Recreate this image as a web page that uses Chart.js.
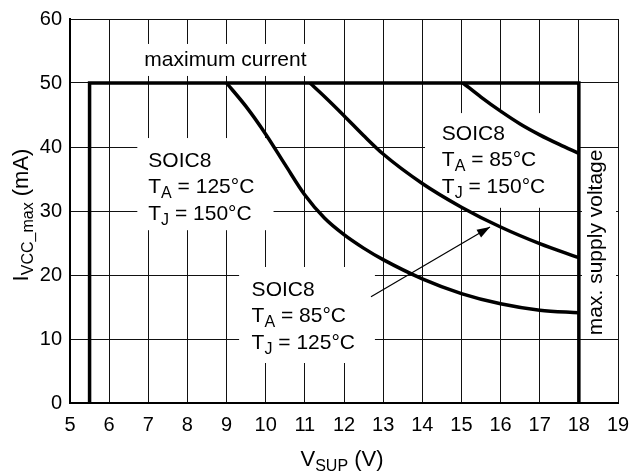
<!DOCTYPE html>
<html>
<head>
<meta charset="utf-8">
<script src="https://cdn.jsdelivr.net/npm/chart.js@4.4.0/dist/chart.umd.min.js"></script>
<style>
  html, body { margin: 0; padding: 0; background: #fff; }
</style>
</head>
<body>
<canvas id="chart" width="631" height="472"></canvas>
<script>
// axis ticks
const xTickValues = [5, 6, 7, 8, 9, 10, 11, 12, 13, 14, 15, 16, 17, 18, 19];
const yTickValues = [0, 10, 20, 30, 40, 50, 60];

// safe operating area: min supply, max current, max supply
const limitX = [5.5, 5.5, 18, 18];
const limitY = [0, 50, 50, 0];

// SOIC8, TA = 125°C, TJ = 150°C
const curve1X = [9, 9.5, 10, 10.5, 11, 11.5, 12, 12.5, 13, 14, 15, 16, 17, 18];
const curve1Y = [50, 46.3, 42.0, 37.2, 32.5, 28.9, 26.3, 24.2, 22.4, 19.4, 17.1, 15.5, 14.5, 14.1];

// SOIC8, TA = 85°C, TJ = 125°C
const curve2X = [11.13, 11.5, 12, 12.5, 13, 14, 15, 16, 17, 18];
const curve2Y = [50, 47.9, 44.9, 41.8, 38.9, 34.3, 30.6, 27.5, 24.9, 22.7];

// SOIC8, TA = 85°C, TJ = 150°C
const curve3X = [15.04, 15.5, 16, 16.5, 17, 17.5, 18];
const curve3Y = [50, 47.8, 45.6, 43.6, 41.9, 40.4, 39.0];

// pointer from the lower note to its curve
const arrowX = [12.69, 15.73];
const arrowY = [16.6, 27.5];

const FONT = '"Liberation Sans", Arial, Helvetica, sans-serif';
Chart.defaults.font.family = FONT;
Chart.defaults.color = "#000";

const toPoints = (xs, ys) => xs.map((v, i) => ({ x: v, y: ys[i] }));

// white patches behind the notes: [x0, y0, x1, y1] in data units
const boxes = [
  [6.79, 56.1, 11.26, 51.1],
  [6.72, 41.4, 10.2, 27.0],
  [9.32, 21.25, 12.79, 6.25],
  [14.07, 45.3, 18, 30.5],
  [18.08, 39.8, 18.95, 10.3],
];

const notes = [
  { x: 6.9, y: 52.7, lines: [[["maximum current"]]] },
  { x: 7.0, y: 36.9, lines: [[["SOIC8"]], [["T"], ["A", 1], [" = 125\u00B0C"]], [["T"], ["J", 1], [" = 150\u00B0C"]]] },
  { x: 9.64, y: 16.77, lines: [[["SOIC8"]], [["T"], ["A", 1], [" = 85\u00B0C"]], [["T"], ["J", 1], [" = 125\u00B0C"]]] },
  { x: 14.5, y: 41.1, lines: [[["SOIC8"]], [["T"], ["A", 1], [" = 85\u00B0C"]], [["T"], ["J", 1], [" = 150\u00B0C"]]] },
];

function drawRich(ctx, x, y, segs, size, subSize, align) {
  let w = 0;
  segs.forEach(s => {
    ctx.font = (s[1] ? subSize : size) + "px " + FONT;
    w += ctx.measureText(s[0]).width;
  });
  let cx = align === "center" ? x - w / 2 : x;
  segs.forEach(s => {
    ctx.font = (s[1] ? subSize : size) + "px " + FONT;
    ctx.fillText(s[0], cx, s[1] ? y + 5 : y);
    cx += ctx.measureText(s[0]).width;
  });
}

const notesPlugin = {
  id: "notes",
  beforeDatasetsDraw(chart) {
    const { ctx, scales: { x, y } } = chart;
    ctx.save();
    ctx.fillStyle = "#fff";
    boxes.forEach(b => {
      const l = x.getPixelForValue(b[0]);
      const t = y.getPixelForValue(b[1]);
      const r = x.getPixelForValue(b[2]);
      const bt = y.getPixelForValue(b[3]);
      ctx.fillRect(l, t, r - l, bt - t);
    });
    ctx.fillStyle = "#000";
    ctx.textAlign = "left";
    ctx.textBaseline = "alphabetic";
    notes.forEach(n => {
      const px = x.getPixelForValue(n.x);
      const py = y.getPixelForValue(n.y);
      n.lines.forEach((line, i) => drawRich(ctx, px, py + i * 26.5, line, 21, 16));
    });
    // max. supply voltage, along the right limit
    ctx.translate(x.getPixelForValue(18) + 23, y.getPixelForValue(25.1));
    ctx.rotate(-Math.PI / 2);
    ctx.textAlign = "center";
    ctx.font = "21px " + FONT;
    ctx.fillText("max. supply voltage", 0, 0);
    ctx.restore();
  },
  afterDatasetsDraw(chart) {
    const { ctx, scales: { x, y } } = chart;
    const x0 = x.getPixelForValue(arrowX[0]), y0 = y.getPixelForValue(arrowY[0]);
    const x1 = x.getPixelForValue(arrowX[1]), y1 = y.getPixelForValue(arrowY[1]);
    const a = Math.atan2(y1 - y0, x1 - x0);
    const len = 13, half = 4.5;
    ctx.save();
    ctx.fillStyle = "#000";
    ctx.beginPath();
    ctx.moveTo(x1, y1);
    ctx.lineTo(x1 - len * Math.cos(a) + half * Math.sin(a), y1 - len * Math.sin(a) - half * Math.cos(a));
    ctx.lineTo(x1 - len * Math.cos(a) - half * Math.sin(a), y1 - len * Math.sin(a) + half * Math.cos(a));
    ctx.closePath();
    ctx.fill();
    ctx.restore();
  },
  afterDraw(chart) {
    const { ctx, chartArea } = chart;
    ctx.save();
    ctx.fillStyle = "#000";
    ctx.textBaseline = "alphabetic";
    drawRich(ctx, (chartArea.left + chartArea.right) / 2 - 2, 466, [["V"], ["SUP", 1], [" (V)"]], 22, 16, "center");
    ctx.translate(28, 215);
    ctx.rotate(-Math.PI / 2);
    drawRich(ctx, 0, 0, [["I"], ["VCC_max", 1], [" (mA)"]], 22, 16, "center");
    ctx.restore();
  },
};

const thick = { showLine: true, pointRadius: 0, borderColor: "#000", borderWidth: 3.5, fill: false };

new Chart(document.getElementById("chart"), {
  type: "scatter",
  data: {
    datasets: [
      { ...thick, label: "limits", data: toPoints(limitX, limitY), tension: 0, borderJoinStyle: "miter", borderCapStyle: "butt" },
      { ...thick, label: "TA 125 TJ 150", data: toPoints(curve1X, curve1Y), cubicInterpolationMode: "monotone" },
      { ...thick, label: "TA 85 TJ 125", data: toPoints(curve2X, curve2Y), cubicInterpolationMode: "monotone" },
      { ...thick, label: "TA 85 TJ 150", data: toPoints(curve3X, curve3Y), cubicInterpolationMode: "monotone" },
      { showLine: true, pointRadius: 0, borderColor: "#000", borderWidth: 1.2, label: "pointer", data: toPoints(arrowX, arrowY) },
    ],
  },
  options: {
    responsive: false,
    animation: false,
    devicePixelRatio: 1,
    layout: { padding: { left: 0, top: 19, right: 13, bottom: 0 } },
    plugins: {
      legend: { display: false },
      tooltip: { enabled: false },
    },
    scales: {
      x: {
        type: "linear",
        min: 5,
        max: 19,
        afterBuildTicks: axis => { axis.ticks = xTickValues.map(v => ({ value: v })); },
        afterFit: axis => {
          axis.height = 69;
          axis.paddingLeft = 0;
          axis.paddingRight = 0;
        },
        ticks: { font: { size: 20 }, padding: 10, color: "#000", maxRotation: 0 },
        grid: { color: "#111", lineWidth: 1, drawTicks: false },
        border: { display: true, color: "#000", width: 2 },
      },
      y: {
        type: "linear",
        min: 0,
        max: 60,
        afterBuildTicks: axis => { axis.ticks = yTickValues.map(v => ({ value: v })); },
        afterFit: axis => {
          axis.width = 70;
          axis.paddingTop = 0;
          axis.paddingBottom = 0;
        },
        ticks: { font: { size: 20 }, padding: 8, color: "#000" },
        grid: { color: "#111", lineWidth: 1, drawTicks: false },
        border: { display: true, color: "#000", width: 2 },
      },
    },
  },
  plugins: [notesPlugin],
});
</script>
</body>
</html>
